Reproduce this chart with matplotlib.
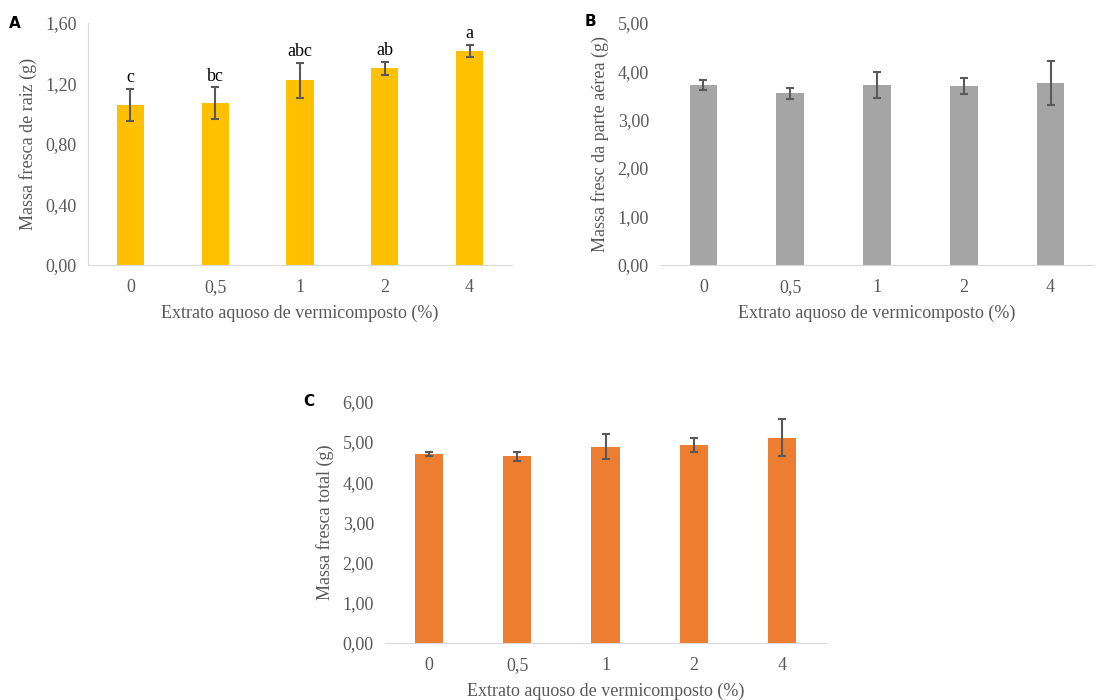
import numpy as np
import matplotlib
matplotlib.use("Agg")
import matplotlib.pyplot as plt

plt.rcParams['font.family'] = ['Liberation Serif', 'DejaVu Serif']

# data
doses = ["0", "0,5", "1", "2", "4"]
raiz = [1.06, 1.07, 1.22, 1.30, 1.415]
raiz_err = [0.106, 0.105, 0.118, 0.043, 0.040]
raiz_letters = ["c", "bc", "abc", "ab", "a"]
aerea = [3.71, 3.54, 3.715, 3.69, 3.755]
aerea_err = [0.10, 0.11, 0.265, 0.17, 0.455]
total = [4.71, 4.64, 4.88, 4.92, 5.10]
total_err = [0.05, 0.115, 0.31, 0.165, 0.46]

txt = "#595959"
W, H = 1112, 700
fig = plt.figure(figsize=(W / 100, H / 100), dpi=100)


def box(l, r, top, bot):
    return [l / W, (H - bot) / H, (r - l) / W, (bot - top) / H]


def panel(rect, vals, err, color, ylim, ystep, ylabel, tag, tagpos,
          left_spine=False, letters=None):
    ax = fig.add_axes(rect)
    x = np.arange(len(doses))
    ax.bar(x, vals, width=0.32, color=color, zorder=2)
    ax.errorbar(x, vals, yerr=err, fmt="none", ecolor=txt, elinewidth=1.5,
                capsize=3, capthick=1.5, zorder=3)
    ax.set_xlim(-0.5, len(doses) - 0.5)
    ax.set_ylim(0, ylim)
    ticks = np.arange(0, ylim + 1e-9, ystep)
    ax.set_yticks(ticks)
    ax.set_yticklabels([f"{t:.2f}".replace(".", ",") for t in ticks])
    ax.set_xticks(x)
    ax.set_xticklabels(doses)
    ax.tick_params(length=0, labelsize=13, colors=txt)
    ax.tick_params(axis="y", pad=8)
    ax.tick_params(axis="x", pad=10)
    for s in ["top", "right"]:
        ax.spines[s].set_visible(False)
    ax.spines["left"].set_visible(left_spine)
    ax.spines["left"].set_color("#D9D9D9")
    ax.spines["bottom"].set_color("#D9D9D9")
    ax.set_ylabel(ylabel, fontsize=13, color=txt, labelpad=6)
    ax.set_xlabel("Extrato aquoso de vermicomposto (%)", fontsize=13,
                  color=txt, labelpad=6)
    if letters:
        for xi, v, e, lab in zip(x, vals, err, letters):
            ax.annotate(lab, (xi, v + e), xytext=(0, 2),
                        textcoords="offset points", ha="center", va="bottom",
                        fontsize=13, color="black")
    fig.text(tagpos[0] / W, 1 - tagpos[1] / H, tag, fontsize=11,
             fontweight="bold", family="DejaVu Sans", color="black",
             ha="center", va="center")
    return ax


panel(box(88, 512, 23, 265), raiz, raiz_err, "#FFC000", 1.6, 0.4,
      "Massa fresca de raiz (g)", "A", (15, 24), left_spine=True,
      letters=raiz_letters)
panel(box(660, 1094, 22.7, 265), aerea, aerea_err, "#A5A5A5", 5.0, 1.0,
      "Massa fresc da parte aérea (g)", "B", (590, 22))
panel(box(385, 826, 401.7, 643), total, total_err, "#ED7D31", 6.0, 1.0,
      "Massa fresca total (g)", "C", (309, 402))

fig.savefig("out.png", dpi=100)
